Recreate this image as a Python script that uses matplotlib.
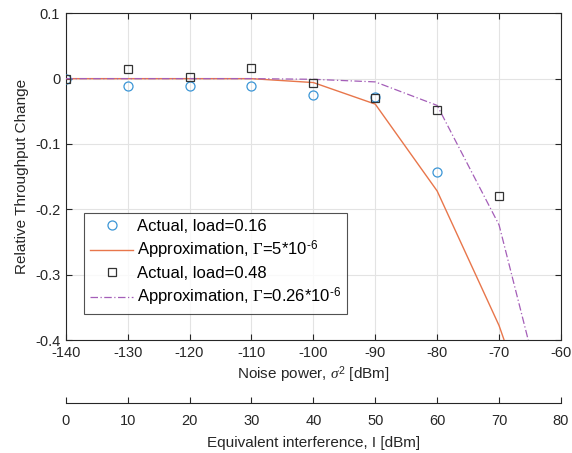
import matplotlib
matplotlib.use("Agg")
import matplotlib.pyplot as plt
import numpy as np

plt.rcParams['font.family'] = ['Liberation Sans', 'DejaVu Sans']
plt.rcParams['axes.unicode_minus'] = False
plt.rcParams['mathtext.fontset'] = 'custom'
plt.rcParams['mathtext.rm'] = 'Liberation Sans'
plt.rcParams['mathtext.it'] = 'Liberation Serif:italic'
plt.rcParams['mathtext.bf'] = 'Liberation Serif'
plt.rcParams['mathtext.sf'] = 'Liberation Sans'

# Data
noise_pts = [-140, -130, -120, -110, -100, -90, -80]
actual_016 = [0.0, -0.011, -0.012, -0.012, -0.025, -0.028, -0.143]

noise_line = [-140, -130, -120, -110, -100, -90, -80, -70, -60]
approx_5 = [0.0, 0.0, 0.0, 0.0, -0.006, -0.039, -0.172, -0.378, -0.65]

noise_pts2 = [-140, -130, -120, -110, -100, -90, -80, -70]
actual_048 = [0.0, 0.014, 0.003, 0.017, -0.006, -0.030, -0.048, -0.180]

approx_026 = [0.0, 0.0, 0.0, 0.0, -0.001, -0.005, -0.041, -0.224, -0.598]

x_ticks = [-140, -130, -120, -110, -100, -90, -80, -70, -60]
y_ticks = [-0.4, -0.3, -0.2, -0.1, 0, 0.1]
y_ticklabels = ['-0.4', '-0.3', '-0.2', '-0.1', '0', '0.1']
x2_ticks = [0, 10, 20, 30, 40, 50, 60, 70, 80]

tc = '#262626'
fig = plt.figure(figsize=(5.72, 4.53), dpi=100)
L, W = 65.7/572, (561-65.7)/572
ax = fig.add_axes([L, (453-340)/453, W, (340-13.3)/453])

ax.plot(noise_pts, actual_016, linestyle='none', marker='o', ms=6.5, mfc='none',
        mec='#3C96D6', mew=0.9, label='Actual, load=0.16', zorder=4)
ax.plot(noise_line, approx_5, color='#E8764B', lw=1.0,
        label=r'Approximation, $\mathbf{\Gamma}$=5*10$^{\text{-6}}$', zorder=3)
ax.plot(noise_pts2, actual_048, linestyle='none', marker='s', ms=5.8, mfc='none',
        mec='#333333', mew=0.9, label='Actual, load=0.48', zorder=4)
ax.plot(noise_line, approx_026, color='#A45EB8', lw=0.9, linestyle=(0, (6, 2, 1, 2)),
        label=r'Approximation, $\mathbf{\Gamma}$=0.26*10$^{\text{-6}}$', zorder=3)

ax.set_xlim(-140, -60)
ax.set_ylim(-0.4, 0.1)
ax.set_xticks(x_ticks)
ax.set_xticklabels([str(v) for v in x_ticks])
ax.set_yticks(y_ticks)
ax.set_yticklabels(y_ticklabels)
ax.grid(True, color='#E3E3E3', lw=0.8)
ax.set_axisbelow(True)
ax.tick_params(direction='in', length=4, width=0.8, colors=tc, labelsize=10.5,
               top=True, right=True, pad=4)
for s in ax.spines.values():
    s.set_color('#262626')
    s.set_linewidth(0.8)
ax.set_xlabel(r'Noise power, $\mathit{\sigma}^{\mathsf{2}}$ [dBm]', fontsize=11, color=tc, labelpad=3)
ax.set_ylabel('Relative Throughput Change', fontsize=11, color=tc, labelpad=4)

leg = ax.legend(loc='lower left', bbox_to_anchor=((84-65.7)/(561-65.7), (340-314)/(340-13.3)),
                fontsize=12, frameon=True, fancybox=False, edgecolor='#262626',
                borderaxespad=0, handlelength=2.6, handletextpad=0.25,
                labelspacing=0.3, borderpad=0.35)
leg.get_frame().set_linewidth(0.8)

ax2 = fig.add_axes([L, (453-403)/453, W, 0.001])
ax2.set_xlim(0, 80)
ax2.set_xticks(x2_ticks)
ax2.set_xticklabels([str(v) for v in x2_ticks])
ax2.set_yticks([])
ax2.patch.set_visible(False)
for k in ['top', 'left', 'right']:
    ax2.spines[k].set_visible(False)
ax2.spines['bottom'].set_color('#262626')
ax2.spines['bottom'].set_linewidth(0.8)
ax2.tick_params(axis='x', direction='in', length=4, width=0.8, colors=tc, labelsize=10.5, pad=8)
ax2.set_xlabel('Equivalent interference, I [dBm]', fontsize=11, color=tc, labelpad=6)

fig.savefig('out.png', dpi=100)
